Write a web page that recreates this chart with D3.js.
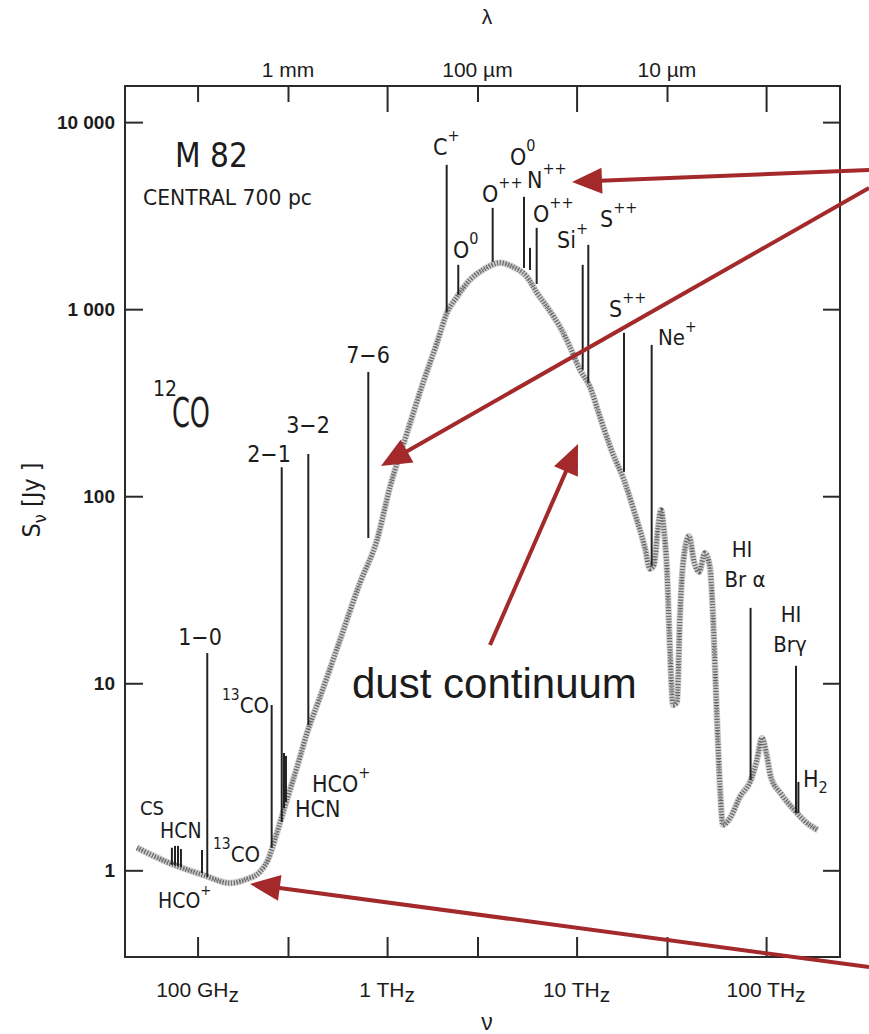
<!DOCTYPE html>
<html>
<head>
<meta charset="utf-8">
<script src="https://cdn.jsdelivr.net/npm/d3@7"></script>
<style>
  body { margin: 0; background: #fff; }
  svg text { font-family: "DejaVu Sans Condensed", "DejaVu Sans", sans-serif; font-stretch: condensed; fill: #1c1c1c; }
  svg .ax text, svg text.ax { font-family: "Liberation Sans", Arial, sans-serif; font-stretch: normal; }
</style>
</head>
<body>
<svg id="chart" width="869" height="1034"></svg>
<script>
//--------------------------------- data (nu in GHz, S in Jy)
var contNu = [47.9, 71.5, 107, 148, 182, 213, 235, 262, 296, 335, 378, 443, 564, 719, 885, 1036,
              1274, 1547, 1833, 2070, 2338, 2738, 3206, 3945, 4617, 5470, 6180, 6980, 8170, 9226,
              10420, 11770, 13290, 15380, 17790, 20330, 22960, 24400, 25600, 26900, 27900, 28900,
              30000, 31100, 32300, 33900, 35100, 36400, 39200, 41700, 44300, 47600, 50600, 52500,
              55100, 57100, 59200, 64500, 72800, 83200, 89500, 95100, 100000, 106000, 120000,
              142000, 160000, 188000];
var contS = [1.32, 1.09, 0.944, 0.855, 0.898, 0.979, 1.135, 1.58, 2.38, 3.57, 5.42, 8.45, 17.0, 34.4,
             58.4, 112, 218, 403, 660, 956, 1164, 1435, 1623, 1769, 1683, 1489, 1222, 1029, 804, 629,
             474, 384, 265, 173, 122, 80.4, 52.9, 40.9, 42.9, 67.7, 84.5, 66.0, 40.3, 15.1, 7.65,
             7.94, 22.6, 42.9, 61.3, 44.5, 39.4, 49.7, 41.4, 22.6, 6.36, 2.79, 1.75, 1.90, 2.47,
             3.04, 3.89, 5.10, 4.29, 3.15, 2.56, 2.08, 1.83, 1.64];

var lineName = ["CS", "HCN", "HCN", "HCN", "HCO+", "CO 1-0", "13CO", "CO 2-1", "HCO+", "HCN",
                "CO 3-2", "CO 7-6", "C+", "O0", "O++", "N++", "O0", "O++", "Si+", "S++", "S++",
                "Ne+", "Br a", "Br g", "H2"];
var lineNu   = [73.2, 76.0, 78.8, 81.7, 105.5, 112.5, 246, 278, 285.8, 292.7, 384, 796, 2063, 2375,
                3608, 5278, 5677, 6157, 10770, 11530, 17790, 24900, 82820, 143800, 148100];
var linePeak = [1.32, 1.35, 1.35, 1.30, 1.284, 14.5, 7.65, 143, 4.24, 4.09, 168, 462, 5910, 1726,
                3481, 3986, 2127, 2721, 1726, 2207, 747, 644, 25.3, 12.4, 2.97];
var lineBase = [1.07, 1.06, 1.05, 1.04, 0.967, 0.921, 1.32, 1.81, 2.15, 2.32, 5.98, 59.8, 967, 1193,
                1790, 1661, 1620, 1364, 474, 404, 135, 42.4, 3.04, 2.02, 2.02];

var nuTicks = [100, 1000, 10000, 100000],
    nuTickLabels = ["100 GH", "1 TH", "10 TH", "100 TH"],   // + subscript z
    nuMinorTicks = [300, 3000, 30000];
var lamTickNu = [299.8, 2998, 29979],
    lamTickLabels = ["1 mm", "100 µm", "10 µm"];
var sTicks = [1, 10, 100, 1000, 10000],
    sTickLabels = ["1", "10", "100", "1 000", "10 000"];

//--------------------------------- layout
var _box = {l: 125, r: 840, t: 86, b: 957},
    _red = "#a3292b";

var svg = d3.select("#chart");
var x = d3.scaleLog().domain([41.4, 2.455e5]).range([_box.l, _box.r]);
var y = d3.scaleLog().domain([0.344, 15600]).range([_box.b, _box.t]);

//--------------------------------- axes (ticks drawn inward)
var gL = svg.append("g").attr("class", "ax").attr("transform", "translate(" + _box.l + ",0)")
  .call(d3.axisLeft(y).tickValues(sTicks).tickSize(-18).tickSizeOuter(0).tickPadding(10)
        .tickFormat(function (d, i) { return sTickLabels[i]; }));
gL.selectAll("text").attr("font-size", 19).attr("font-weight", "bold").attr("fill", "#333");

svg.append("g").attr("class", "ax").attr("transform", "translate(" + _box.r + ",0)")
  .call(d3.axisRight(y).tickValues(sTicks).tickSize(-17).tickSizeOuter(0).tickFormat(""));

svg.append("g").attr("class", "ax").attr("transform", "translate(0," + _box.b + ")")
  .call(d3.axisBottom(x).tickValues(nuTicks.concat(nuMinorTicks)).tickSize(-20).tickSizeOuter(0).tickFormat(""));

svg.append("g").attr("class", "ax").attr("transform", "translate(0," + _box.t + ")")
  .call(d3.axisTop(x).tickValues(nuTicks.slice(1)).tickSize(-26).tickSizeOuter(0).tickFormat(""));
svg.append("g").attr("class", "ax").attr("transform", "translate(0," + _box.t + ")")
  .call(d3.axisTop(x).tickValues([nuTicks[0]].concat(nuMinorTicks)).tickSize(-16).tickSizeOuter(0).tickFormat(""));

svg.selectAll(".ax path.domain").remove();
svg.selectAll(".ax line").attr("stroke", "#2a2a2a").attr("stroke-width", 2);

svg.append("rect")
  .attr("x", _box.l).attr("y", _box.t)
  .attr("width", _box.r - _box.l).attr("height", _box.b - _box.t)
  .attr("fill", "none").attr("stroke", "#2a2a2a").attr("stroke-width", 2);

// frequency labels (GHz / THz with lowered z)
var nuLab = svg.selectAll("text.nulab").data(nuTicks).enter().append("text")
  .attr("class", "ax nulab")
  .attr("x", function (d) { return x(d); }).attr("y", 997)
  .attr("text-anchor", "middle").attr("font-size", 21).attr("fill", "#222");
nuLab.append("tspan").text(function (d, i) { return nuTickLabels[i]; });
nuLab.append("tspan").attr("dy", 5).text("z");

svg.selectAll("text.lamlab").data(lamTickNu).enter().append("text")
  .attr("class", "ax lamlab")
  .attr("x", function (d) { return x(d); }).attr("y", 77)
  .attr("text-anchor", "middle").attr("font-size", 21).attr("fill", "#222")
  .text(function (d, i) { return lamTickLabels[i]; });

svg.append("text").attr("class", "ax").attr("x", 487).attr("y", 24)
  .attr("text-anchor", "middle").attr("font-size", 21).text("λ");
svg.append("text").attr("class", "ax").attr("x", 487).attr("y", 1030)
  .attr("text-anchor", "middle").attr("font-size", 23).text("ν");

var yl = svg.append("text").attr("transform", "translate(40,500) rotate(-90)")
  .attr("text-anchor", "middle").attr("font-size", 25);
yl.append("tspan").text("S");
yl.append("tspan").attr("dy", 6).attr("font-size", 18).text("ν");
yl.append("tspan").attr("dy", -6).text("  [Jy ]");

//--------------------------------- continuum (stippled trace)
var cont = contNu.map(function (d, i) { return [d, contS[i]]; });
var line = d3.line()
  .x(function (d) { return x(d[0]); })
  .y(function (d) { return y(d[1]); })
  .curve(d3.curveMonotoneX);

svg.append("path").datum(cont).attr("d", line)
  .attr("fill", "none").attr("stroke", "#d0d0d0").attr("stroke-width", 6.5).attr("stroke-linejoin", "round");
svg.append("path").datum(cont).attr("d", line)
  .attr("fill", "none").attr("stroke", "#5a5a5a").attr("stroke-width", 5)
  .attr("stroke-dasharray", "1 1.8");
svg.append("path").datum(cont).attr("d", line)
  .attr("fill", "none").attr("stroke", "#777").attr("stroke-width", 2.5)
  .attr("stroke-dasharray", "0.8 2.3").attr("stroke-dashoffset", 1.3);

//--------------------------------- spectral lines
svg.selectAll("line.spec").data(lineNu).enter().append("line")
  .attr("class", "spec")
  .attr("x1", function (d) { return x(d); }).attr("x2", function (d) { return x(d); })
  .attr("y1", function (d, i) { return y(lineBase[i]); })
  .attr("y2", function (d, i) { return y(linePeak[i]); })
  .attr("stroke", "#222").attr("stroke-width", 2);

//--------------------------------- labels: [text, mode] parts, baseline position
var labels = [
  {p: [["M 82"]], x: 175, y: 167, s: 33},
  {p: [["CENTRAL 700 pc"]], x: 143, y: 205, s: 21, w: 169},
  {p: [["12", "sup"]], x: 153, y: 414, s: 30},
  {p: [["7−6"]], x: 368, y: 363, s: 23, a: "middle"},
  {p: [["3−2"]], x: 308, y: 433, s: 23, a: "middle"},
  {p: [["2−1"]], x: 269, y: 462, s: 23, a: "middle"},
  {p: [["1−0"]], x: 200, y: 645, s: 23, a: "middle"},
  {p: [["13", "sup"], ["CO"]], x: 222, y: 713, s: 22},
  {p: [["HCO"], ["+", "sup"]], x: 312, y: 792, s: 23},
  {p: [["HCN"]], x: 295, y: 817, s: 23},
  {p: [["CS"]], x: 140, y: 815, s: 20},
  {p: [["HCN"]], x: 160, y: 838, s: 21},
  {p: [["13", "sup"], ["CO"]], x: 213, y: 862, s: 22},
  {p: [["HCO"], ["+", "sup"]], x: 158, y: 908, s: 21},
  {p: [["C"], ["+", "sup"]], x: 433, y: 155, s: 23},
  {p: [["O"], ["0", "sup"]], x: 453, y: 258, s: 23},
  {p: [["O"], ["++", "sup"]], x: 482, y: 202, s: 23},
  {p: [["O"], ["0", "sup"]], x: 510, y: 165, s: 23},
  {p: [["N"], ["++", "sup"]], x: 527, y: 188, s: 23},
  {p: [["O"], ["++", "sup"]], x: 533, y: 222, s: 23},
  {p: [["Si"], ["+", "sup"]], x: 557, y: 248, s: 23},
  {p: [["S"], ["++", "sup"]], x: 600, y: 227, s: 23},
  {p: [["S"], ["++", "sup"]], x: 609, y: 317, s: 23},
  {p: [["Ne"], ["+", "sup"]], x: 658, y: 345, s: 22},
  {p: [["HI"]], x: 742, y: 557, s: 22, a: "middle"},
  {p: [["Br α"]], x: 745, y: 587, s: 22, a: "middle"},
  {p: [["HI"]], x: 791, y: 622, s: 22, a: "middle"},
  {p: [["Brγ"]], x: 790, y: 652, s: 22, a: "middle"},
  {p: [["H"], ["2", "sub"]], x: 803, y: 787, s: 23}
];

labels.forEach(function (lb) {
  var t = svg.append("text").attr("x", lb.x).attr("y", lb.y)
    .attr("font-size", lb.s).attr("text-anchor", lb.a || "start");
  if (lb.w) t.attr("textLength", lb.w).attr("lengthAdjust", "spacingAndGlyphs");
  var cur = 0;
  lb.p.forEach(function (part) {
    var off = part[1] === "sup" ? -0.6 * lb.s : (part[1] === "sub" ? 0.25 * lb.s : 0);
    t.append("tspan").attr("dy", off - cur)
      .attr("font-size", part[1] ? lb.s * 0.7 : lb.s)
      .text(part[0]);
    cur = off;
  });
});

// big CO of 12CO (tall, narrow lettering)
svg.append("text").attr("x", 172).attr("y", 427).attr("font-size", 40)
  .attr("textLength", 38).attr("lengthAdjust", "spacingAndGlyphs").text("CO");

//--------------------------------- red annotation arrows
var arrows = [
  {x1: 869, y1: 170, x2: 572, y2: 182},
  {x1: 869, y1: 188, x2: 381, y2: 466},
  {x1: 490, y1: 645, x2: 578, y2: 444},
  {x1: 869, y1: 967, x2: 250, y2: 884}
];
arrows.forEach(function (a) {
  var dx = a.x2 - a.x1, dy = a.y2 - a.y1, len = Math.sqrt(dx * dx + dy * dy),
      ux = dx / len, uy = dy / len, hl = 30, hw = 13,
      bx = a.x2 - ux * hl, by = a.y2 - uy * hl;
  svg.append("line").attr("x1", a.x1).attr("y1", a.y1).attr("x2", bx + ux * 2).attr("y2", by + uy * 2)
    .attr("stroke", _red).attr("stroke-width", 4);
  svg.append("polygon")
    .attr("points", [[a.x2, a.y2], [bx - uy * hw, by + ux * hw], [bx + uy * hw, by - ux * hw]]
      .map(function (p) { return p.join(","); }).join(" "))
    .attr("fill", _red);
});

svg.append("text").attr("class", "ax").attr("x", 352).attr("y", 698)
  .attr("font-size", 42).attr("fill", "#000").text("dust continuum");
</script>
</body>
</html>
